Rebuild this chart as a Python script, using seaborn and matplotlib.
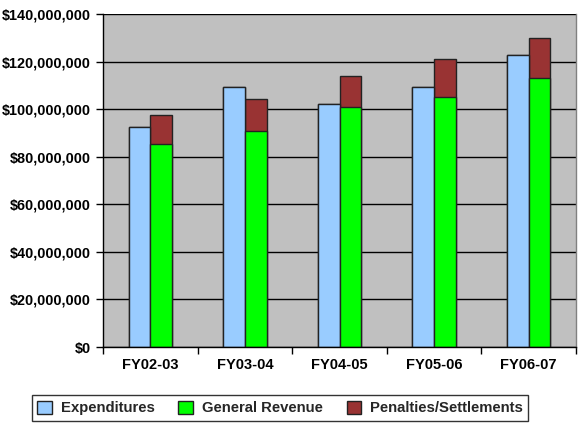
import matplotlib
matplotlib.use("Agg")
import matplotlib.pyplot as plt
import matplotlib.ticker as mticker
from matplotlib.patches import Patch
import seaborn as sns
import pandas as pd
import numpy as np

categories = ["FY02-03", "FY03-04", "FY04-05", "FY05-06", "FY06-07"]
expenditures = [92.3e6, 109.1e6, 102.2e6, 109.2e6, 122.9e6]
general_revenue = [85.3e6, 90.8e6, 100.8e6, 104.9e6, 113.0e6]
penalties = [12.2e6, 13.5e6, 13.2e6, 16.1e6, 16.8e6]
series_names = ["Expenditures", "General Revenue", "Penalties/Settlements"]
colors = {"Expenditures": "#99CCFF", "General Revenue": "#00FF00", "Penalties/Settlements": "#993333"}

sns.set_theme(style="white")
plt.rcParams["font.family"] = ["Liberation Sans", "DejaVu Sans"]
plt.rcParams["font.weight"] = "bold"

totals = [g + p for g, p in zip(general_revenue, penalties)]

df_top = pd.DataFrame({
    "cat": categories * 2,
    "slot": ["A"] * 5 + ["B"] * 5,
    "value": expenditures + totals,
})
df_low = pd.DataFrame({
    "cat": categories * 2,
    "slot": ["A"] * 5 + ["B"] * 5,
    "value": expenditures + general_revenue,
})

fig = plt.figure(figsize=(5.82, 4.26), dpi=100)
ax = fig.add_axes([103 / 582, 1 - 347 / 426, 473 / 582, 333 / 426])
ax.set_facecolor("#C0C0C0")
ax.set_axisbelow(True)

sns.barplot(data=df_top, x="cat", y="value", hue="slot", order=categories,
            hue_order=["A", "B"],
            palette={"A": colors["Expenditures"], "B": colors["Penalties/Settlements"]},
            width=0.46, dodge=True, edgecolor="#222222", linewidth=1.0,
            saturation=1, legend=False, ax=ax, errorbar=None)
sns.barplot(data=df_low, x="cat", y="value", hue="slot", order=categories,
            hue_order=["A", "B"],
            palette={"A": colors["Expenditures"], "B": colors["General Revenue"]},
            width=0.46, dodge=True, edgecolor="#222222", linewidth=1.0,
            saturation=1, legend=False, ax=ax, errorbar=None)

ax.set_ylim(0, 140e6)
ax.set_xlim(-0.5, 4.5)
ax.yaxis.set_major_locator(mticker.MultipleLocator(20e6))
ax.yaxis.set_major_formatter(mticker.FuncFormatter(lambda v, p: f"${v:,.0f}"))
ax.grid(axis="y", color="black", linewidth=1.0)
ax.grid(axis="x", visible=False)

ax.set_xlabel("")
ax.set_ylabel("")
ax.tick_params(axis="y", which="major", direction="out", length=5, width=1,
               color="black", labelsize=10.4, pad=4, left=True)
ax.tick_params(axis="x", which="major", length=0, labelsize=10.5, pad=8)
ax.set_xticks(np.arange(-0.5, 5.0, 1.0), minor=True)
ax.tick_params(axis="x", which="minor", direction="out", length=5, width=1,
               color="black", bottom=True)
for lbl in ax.get_xticklabels() + ax.get_yticklabels():
    lbl.set_fontweight("bold")
    lbl.set_color("black")

for side in ["left", "bottom"]:
    ax.spines[side].set_color("black")
    ax.spines[side].set_linewidth(1.0)
ax.spines["right"].set_color("#808080")
ax.spines["right"].set_linewidth(1.0)
ax.spines["top"].set_visible(False)

handles = [Patch(facecolor=colors[n], edgecolor="#222222", linewidth=1.0, label=n)
           for n in series_names]
leg = fig.legend(handles=handles, loc="center", bbox_to_anchor=(280 / 582, 1 - 408 / 426),
                 ncol=3, frameon=True, fancybox=False, edgecolor="black",
                 prop={"weight": "bold", "size": 10.7}, handlelength=1.0,
                 handleheight=1.0, handletextpad=0.6, columnspacing=1.6,
                 borderpad=0.35)
leg.get_frame().set_linewidth(1.0)

fig.savefig("out.png", dpi=100)
